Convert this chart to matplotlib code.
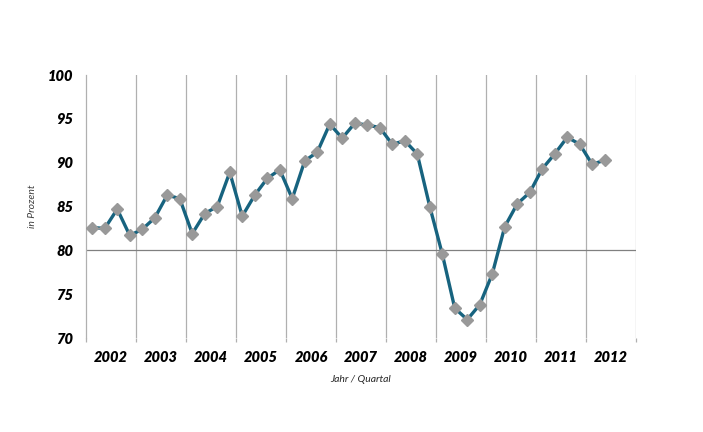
import numpy as np
import matplotlib
matplotlib.use('Agg')
import matplotlib.pyplot as plt

years = list(range(2002, 2013))
# quarterly values, 2002 Q1 .. 2012 Q2
werte = [82.6, 82.5, 84.7, 81.7,
         82.4, 83.7, 86.3, 85.9,
         81.9, 84.2, 85.0, 88.9,
         83.9, 86.3, 88.2, 89.2,
         85.9, 90.2, 91.2, 94.4,
         92.8, 94.5, 94.3, 94.0,
         92.1, 92.5, 91.0, 85.0,
         79.6, 73.4, 72.1, 73.8,
         77.3, 82.7, 85.3, 86.6,
         89.3, 91.0, 92.9, 92.1,
         89.8, 90.3]
y_ticks = [70, 75, 80, 85, 90, 95, 100]

x = 2002 + (np.arange(len(werte)) + 0.5) / 4.0

fig = plt.figure(figsize=(7.03, 4.32), dpi=100)
ax = fig.add_axes([86/703, 1 - 338/432, 550/703, 263/432])

ax.set_xlim(2002, 2013)
ax.set_ylim(70, 100)

# gridlines at year boundaries, horizontal line at 80
for yr in years[1:] + [2013]:
    ax.axvline(yr, color='#b0b0b0', lw=0.9, zorder=1)
ax.axhline(80, color='#808080', lw=0.9, zorder=1)

ax.plot(x, werte, '-', color='#17637f', lw=2.4, zorder=3,
        solid_joinstyle='round')
ax.plot(x, werte, 'D', color='#999999', ms=6, mec='#999999', zorder=4)

for s in ['top', 'right', 'bottom']:
    ax.spines[s].set_visible(False)
ax.spines['left'].set_color('#b0b0b0')
ax.spines['left'].set_linewidth(0.9)

tick_font = dict(family='Lato', weight='heavy', style='italic', size=10.5)

ax.set_yticks(y_ticks)
ax.set_yticklabels([str(v) for v in y_ticks], **tick_font)
ax.tick_params(axis='y', length=0, pad=9)

ax.set_xticks(years + [2013])
ax.set_xticklabels([])
ax.tick_params(axis='x', which='major', length=3, width=0.9,
               color='#b0b0b0', direction='out')
ax.set_xticks([yr + 0.5 for yr in years], minor=True)
ax.set_xticklabels([str(yr) for yr in years], minor=True, **tick_font)
ax.tick_params(axis='x', which='minor', length=0, pad=9)

ax.set_ylabel('in Prozent', family='Lato', style='italic', size=7.5,
              color='#404040', labelpad=8)
ax.set_xlabel('Jahr / Quartal', family='Lato', style='italic', size=7.5,
              color='#262626', labelpad=8)

fig.savefig('out.png', dpi=100)
